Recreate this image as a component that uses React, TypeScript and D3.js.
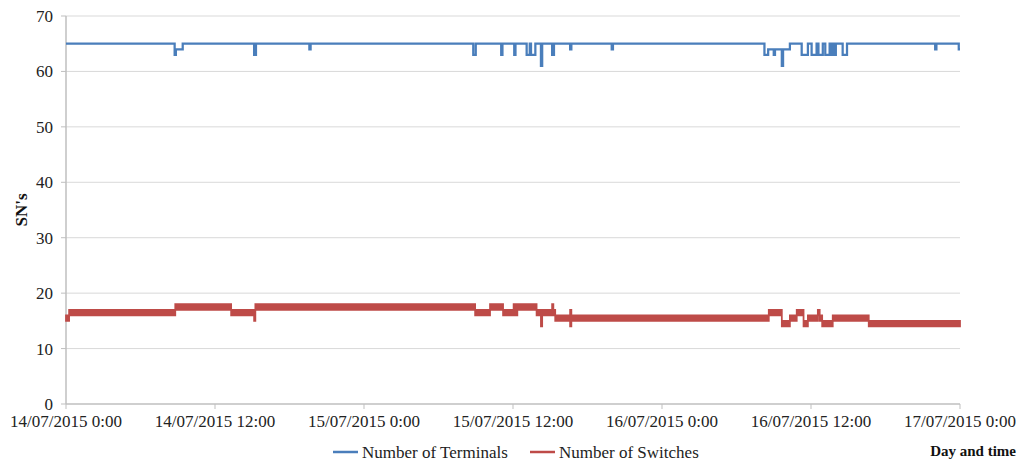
import React from "react";
import * as d3 from "d3";

// hours since 14/07/2015 0:00
const xTickHours = [0, 12, 24, 36, 48, 60, 72];
const xTickLabels = [
  "14/07/2015 0:00",
  "14/07/2015 12:00",
  "15/07/2015 0:00",
  "15/07/2015 12:00",
  "16/07/2015 0:00",
  "16/07/2015 12:00",
  "17/07/2015 0:00",
];
const yTicks = [0, 10, 20, 30, 40, 50, 60, 70];

// Number of Terminals: [hour, value] step series
const terminals: [number, number][] = [
  [0, 65], [8.75, 63], [8.85, 64], [9.4, 65],
  [15.15, 63], [15.3, 65], [19.6, 64], [19.7, 65],
  [32.8, 63], [33.0, 65], [35.05, 63], [35.15, 65], [36.1, 63], [36.2, 65],
  [37.1, 63], [37.35, 65], [37.45, 63], [37.8, 65], [38.25, 61], [38.35, 65],
  [39.15, 63], [39.3, 65], [40.6, 64], [40.7, 65], [43.95, 64], [44.05, 65],
  [56.25, 63], [56.55, 64], [56.9, 64], [57.0, 63], [57.1, 64], [57.65, 61], [57.75, 64],
  [58.3, 65], [59.25, 63], [59.75, 65], [60.05, 63], [60.45, 65], [60.6, 63], [60.95, 65],
  [61.15, 63], [61.5, 65], [61.65, 63], [61.8, 65], [61.9, 63], [62.0, 65],
  [62.55, 63], [62.9, 65], [70.0, 64], [70.1, 65], [71.9, 64], [72, 64],
];

// Number of Switches: [start hour, low, high] — rapidly alternating band
const switchBands: [number, number, number][] = [
  [0, 15, 16], [0.25, 16, 17], [8.8, 17, 18], [13.3, 16, 17], [15.15, 15, 17],
  [15.25, 17, 18], [32.95, 16, 17], [34.15, 17, 18], [35.2, 16, 17], [36.05, 16, 18],
  [36.35, 17, 18], [37.9, 16, 17], [38.25, 14, 17], [38.35, 16, 17], [39.15, 16, 18],
  [39.25, 16, 17], [39.4, 15, 16], [40.6, 14, 17], [40.7, 15, 16], [56.6, 16, 17],
  [57.65, 14, 15], [58.3, 15, 16], [58.85, 16, 17], [59.4, 14, 15], [59.75, 15, 16],
  [60.55, 16, 17], [60.7, 15, 16], [60.9, 14, 15], [61.75, 15, 16], [64.65, 14, 15],
  [72, 14, 15],
];

const BLUE = "#4a7ebb";
const RED = "#be4b48";
const FONT = "'Liberation Serif', 'Times New Roman', serif";

export default function App() {
  const W = 1024, H = 463;
  const left = 66, right = 960, top = 16, bottom = 404;
  const x = d3.scaleLinear().domain([0, 72]).range([left, right]);
  const y = d3.scaleLinear().domain([0, 70]).range([bottom, top]);

  const line = d3
    .line<[number, number]>()
    .x((d) => x(d[0]))
    .y((d) => y(d[1]))
    .curve(d3.curveStepAfter);

  const area = d3
    .area<[number, number, number]>()
    .x((d) => x(d[0]))
    .y0((d) => y(d[1]))
    .y1((d) => y(d[2]))
    .curve(d3.curveStepAfter);

  return (
    <svg
      width={W}
      height={H}
      style={{ position: "absolute", left: 0, top: 0, background: "#fff" }}
      fontFamily={FONT}
    >
      {/* gridlines */}
      {yTicks.slice(1).map((t) => (
        <line key={t} x1={left} x2={right} y1={y(t)} y2={y(t)} stroke="#d9d9d9" strokeWidth={1} />
      ))}
      {/* y axis */}
      <line x1={left} x2={left} y1={top} y2={bottom} stroke="#bfbfbf" strokeWidth={1.5} />
      {yTicks.map((t) => (
        <g key={t}>
          <line x1={left - 5} x2={left} y1={y(t)} y2={y(t)} stroke="#bfbfbf" />
          <text x={left - 13} y={y(t)} dy="0.35em" textAnchor="end" fontSize={17} fill="#222">
            {t}
          </text>
        </g>
      ))}
      {/* x axis */}
      <line x1={left} x2={right} y1={bottom} y2={bottom} stroke="#bfbfbf" strokeWidth={1.5} />
      {xTickHours.map((h, i) => (
        <g key={h}>
          <line x1={x(h)} x2={x(h)} y1={bottom} y2={bottom + 5} stroke="#bfbfbf" />
          <text x={x(h)} y={427} textAnchor="middle" fontSize={17} fill="#222">
            {xTickLabels[i]}
          </text>
        </g>
      ))}
      {/* series */}
      <path d={area(switchBands) || ""} fill={RED} stroke={RED} strokeWidth={1.75} strokeLinejoin="miter" />
      <path d={line(terminals) || ""} fill="none" stroke={BLUE} strokeWidth={2.25} />
      {/* y label */}
      <text
        transform={`translate(27,${(top + bottom) / 2}) rotate(-90)`}
        textAnchor="middle"
        fontSize={17}
        fontWeight="bold"
        fill="#111"
      >
        SN's
      </text>
      {/* legend */}
      <line x1={333} x2={358} y1={452} y2={452} stroke={BLUE} strokeWidth={2.5} />
      <text x={362} y={458} fontSize={17} fill="#222">Number of Terminals</text>
      <line x1={530} x2={555} y1={452} y2={452} stroke={RED} strokeWidth={2.5} />
      <text x={559} y={458} fontSize={17} fill="#222">Number of Switches</text>
      <text x={1016} y={456} textAnchor="end" fontSize={15} fontWeight="bold" fill="#111">
        Day and time
      </text>
    </svg>
  );
}
